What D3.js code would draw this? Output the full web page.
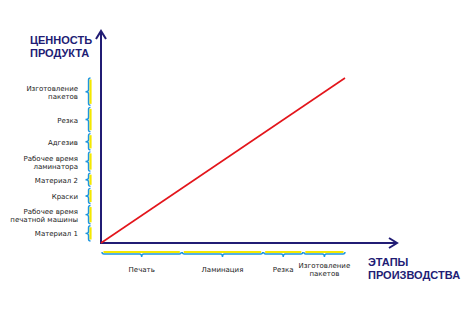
<!DOCTYPE html>
<html><head><meta charset="utf-8">
<script src="https://cdn.jsdelivr.net/npm/d3@7"></script>
<style>html,body{margin:0;padding:0;background:#fff;}svg{display:block;}</style>
</head><body>
<svg id="chart" width="476" height="320"></svg>
<script>
// Y categories (bottom to top) and their relative spans
const yCategories = ["Материал 1", "Рабочее время|печатной машины", "Краски", "Материал 2", "Рабочее время|ламинатора", "Адгезив", "Резка", "Изготовление|пакетов"];
const ySpans = [17, 20, 17, 15, 21, 18, 26, 29];
// X categories (left to right) and their relative spans
const xCategories = ["Печать", "Ламинация", "Резка", "Изготовление|пакетов"];
const xSpans = [80, 81, 40, 42];
// value line: start and end (fractions of total)
const lineFractions = [0, 1];
const yTitle = ["ЦЕННОСТЬ", "ПРОДУКТА"];
const xTitle = ["ЭТАПЫ", "ПРОИЗВОДСТВА"];

const navy = "#211c74", red = "#e3151b", blue = "#1e96dd", yellow = "#f4e800", textCol = "#222";
const svg = d3.select("#chart");
const ox = 101, oy = 243;
const ySum = d3.sum(ySpans), xSum = d3.sum(xSpans);
const x = d3.scaleLinear().domain([0, xSum]).range([ox, 345]);
const y = d3.scaleLinear().domain([0, ySum]).range([oy, 78]);
const yCum = d3.cumsum([0, ...ySpans]);
const xCum = d3.cumsum([0, ...xSpans]);

// Axes
svg.append("line").attr("x1", ox).attr("y1", oy + 1).attr("x2", ox).attr("y2", 31)
  .attr("stroke", navy).attr("stroke-width", 2);
svg.append("polyline").attr("points", `${ox-5},${39} ${ox},${31} ${ox+5},${39}`)
  .attr("fill", "none").attr("stroke", navy).attr("stroke-width", 2);
svg.append("line").attr("x1", ox - 1).attr("y1", oy).attr("x2", 397).attr("y2", oy)
  .attr("stroke", navy).attr("stroke-width", 2);
svg.append("polyline").attr("points", `${389},${oy-5} ${397},${oy} ${389},${oy+5}`)
  .attr("fill", "none").attr("stroke", navy).attr("stroke-width", 2);

// Red value line
svg.append("path").datum(lineFractions)
  .attr("d", d3.line().x(f => x(f * xSum)).y(f => y(f * ySum)))
  .attr("stroke", red).attr("stroke-width", 1.6).attr("fill", "none");

// Brace helpers
function vBrace(bx, y0, y1) { // y0 top, y1 bottom, tip left
  const ym = (y0 + y1) / 2, d = 2, r = 2, t = 3;
  return `M${bx+d},${y0} Q${bx},${y0} ${bx},${y0+r} L${bx},${ym-r} Q${bx},${ym} ${bx-t},${ym} Q${bx},${ym} ${bx},${ym+r} L${bx},${y1-r} Q${bx},${y1} ${bx+d},${y1}`;
}
function hBrace(by, x0, x1) { // tip down
  const xm = (x0 + x1) / 2, d = 2, r = 2, t = 3;
  return `M${x0},${by-d} Q${x0},${by} ${x0+r},${by} L${xm-r},${by} Q${xm},${by} ${xm},${by+t} Q${xm},${by} ${xm+r},${by} L${x1-r},${by} Q${x1},${by} ${x1},${by-d}`;
}

// Y braces
const bx = 88.5;
const yg = svg.append("g");
yCategories.forEach((c, i) => {
  const y0 = y(yCum[i + 1]), y1 = y(yCum[i]) - 2;
  yg.append("line").attr("x1", bx + 2).attr("x2", bx + 2).attr("y1", y0 + 1.5).attr("y2", y1 - 1.5)
    .attr("stroke", yellow).attr("stroke-width", 2.2);
  yg.append("path").attr("d", vBrace(bx, y0, y1)).attr("fill", "none").attr("stroke", blue).attr("stroke-width", 1.4);
  const lines = c.split("|"), cy = (y0 + y1) / 2;
  const t = yg.append("text").attr("x", 78).attr("text-anchor", "end")
    .attr("font-family", "DejaVu Sans").attr("font-size", 7).attr("fill", textCol);
  lines.forEach((l, k) => t.append("tspan").attr("x", 78)
    .attr("y", cy + 3 + (k - (lines.length - 1) / 2) * 8).text(l));
});

// X braces
const by = 254;
const xg = svg.append("g");
xCategories.forEach((c, i) => {
  const x0 = x(xCum[i]) + 1, x1 = x(xCum[i + 1]);
  xg.append("line").attr("y1", by - 2).attr("y2", by - 2).attr("x1", x0 + 1.5).attr("x2", x1 - 1.5)
    .attr("stroke", yellow).attr("stroke-width", 2.2);
  xg.append("path").attr("d", hBrace(by, x0, x1)).attr("fill", "none").attr("stroke", blue).attr("stroke-width", 1.4);
  const lines = c.split("|"), cx = (x0 + x1) / 2;
  const t = xg.append("text").attr("text-anchor", "middle")
    .attr("font-family", "DejaVu Sans").attr("font-size", 7).attr("fill", textCol);
  lines.forEach((l, k) => t.append("tspan").attr("x", cx)
    .attr("y", 271.5 + (k - (lines.length - 1) / 2) * 8).text(l));
});

// Titles
const tt = svg.append("text").attr("font-family", "Liberation Sans").attr("font-weight", "bold")
  .attr("font-size", 11).attr("fill", navy);
yTitle.forEach((l, k) => tt.append("tspan").attr("x", 30).attr("y", 44 + k * 13).text(l));
const tx = svg.append("text").attr("font-family", "Liberation Sans").attr("font-weight", "bold")
  .attr("font-size", 11).attr("fill", navy);
xTitle.forEach((l, k) => tx.append("tspan").attr("x", 368).attr("y", 266 + k * 13).text(l));
</script>
</body></html>
